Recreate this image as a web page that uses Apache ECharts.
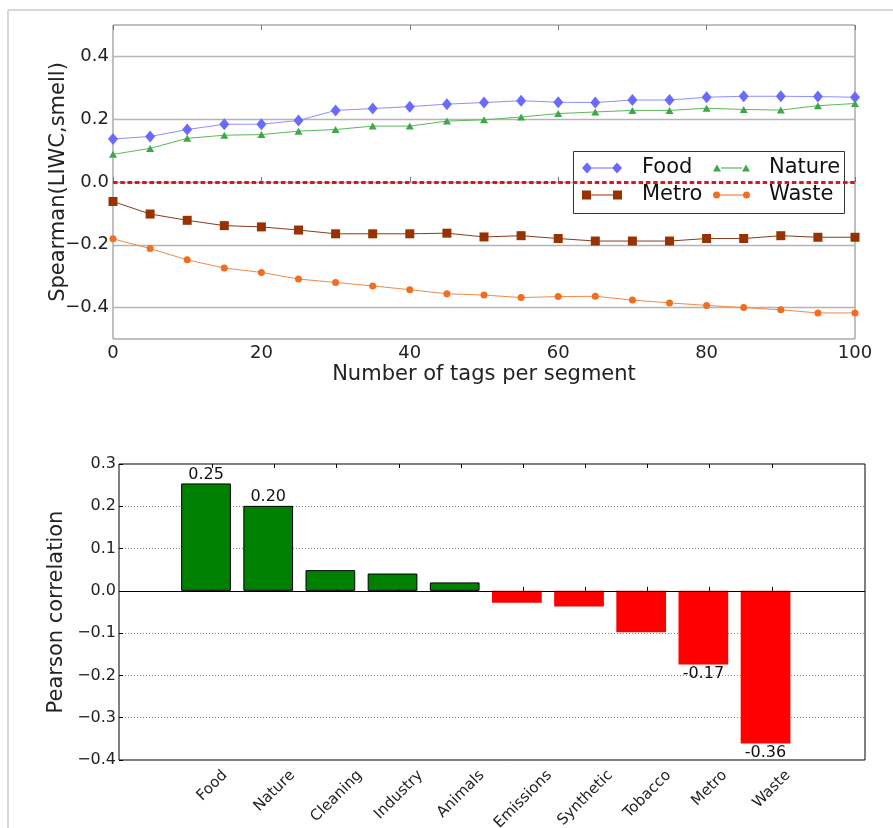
<!DOCTYPE html>
<html><head><meta charset="utf-8">
<script src="https://cdn.jsdelivr.net/npm/echarts@6/dist/echarts.min.js"></script>
<style>html,body{margin:0;padding:0;background:#fff}#c{width:893px;height:828px}</style>
</head><body><div id="c"></div>
<script>
// ---------- data: top chart ----------
const tagCounts = [0,5,10,15,20,25,30,35,40,45,50,55,60,65,70,75,80,85,90,95,100];
const foodRho   = [0.137,0.145,0.167,0.184,0.184,0.196,0.228,0.234,0.240,0.248,0.253,0.259,0.254,0.253,0.261,0.261,0.270,0.273,0.273,0.272,0.270];
const natureRho = [0.088,0.107,0.139,0.149,0.151,0.162,0.167,0.178,0.178,0.194,0.198,0.207,0.218,0.223,0.228,0.228,0.235,0.231,0.229,0.243,0.250];
const metroRho  = [-0.062,-0.102,-0.122,-0.139,-0.143,-0.153,-0.165,-0.165,-0.165,-0.163,-0.175,-0.171,-0.180,-0.188,-0.188,-0.188,-0.180,-0.180,-0.171,-0.176,-0.176];
const wasteRho  = [-0.181,-0.212,-0.248,-0.274,-0.288,-0.309,-0.320,-0.331,-0.343,-0.356,-0.360,-0.368,-0.365,-0.364,-0.376,-0.385,-0.393,-0.400,-0.407,-0.417,-0.417];
// ---------- data: bottom chart ----------
const barCategories = ['Food','Nature','Cleaning','Industry','Animals','Emissions','Synthetic','Tobacco','Metro','Waste'];
const pearsonValues = [0.254,0.201,0.049,0.041,0.020,-0.028,-0.037,-0.098,-0.174,-0.361];
const labeledBars = ['Food','Nature','Metro','Waste'];

const FONT = 'DejaVu Sans';
const chart = echarts.init(document.getElementById('c'), null, {renderer: 'canvas'});

function pairs(ys) { return tagCounts.map((x, i) => [x, ys[i]]); }
function fmtAxis(v) {
  if (Math.abs(v) < 1e-9) return '0.0';
  const s = Math.abs(v).toFixed(1);
  return v < 0 ? '\u2212' + s : s;
}

// legend icons: marker - line - marker (matplotlib style)
function iconPath(kind, W) {
  const bbox = 'M0,0 L0,0 M' + W + ',12 L' + W + ',12 ';
  let m1, m2, a, b;
  if (kind === 'diamond') {
    m1 = 'M0,6 L5,0.5 L10,6 L5,11.5 Z '; m2 = 'M' + (W-10) + ',6 L' + (W-5) + ',0.5 L' + W + ',6 L' + (W-5) + ',11.5 Z ';
    a = 10; b = W - 10;
  } else if (kind === 'triangle') {
    m1 = 'M0,9.5 L4,2.5 L8,9.5 Z '; m2 = 'M' + (W-8) + ',9.5 L' + (W-4) + ',2.5 L' + W + ',9.5 Z ';
    a = 8; b = W - 8;
  } else if (kind === 'square') {
    m1 = 'M0,1.5 L9,1.5 L9,10.5 L0,10.5 Z '; m2 = 'M' + (W-9) + ',1.5 L' + W + ',1.5 L' + W + ',10.5 L' + (W-9) + ',10.5 Z ';
    a = 9; b = W - 9;
  } else {
    m1 = 'M0,6 A3.5,3.5 0 1,0 7,6 A3.5,3.5 0 1,0 0,6 Z ';
    m2 = 'M' + (W-7) + ',6 A3.5,3.5 0 1,0 ' + W + ',6 A3.5,3.5 0 1,0 ' + (W-7) + ',6 Z ';
    a = 7; b = W - 7;
  }
  const line = 'M' + a + ',5.5 L' + b + ',5.5 L' + b + ',6.5 L' + a + ',6.5 Z ';
  return 'path://' + bbox + m1 + line + m2;
}

const colors = {
  Food:   {mark: '#6a6aff', line: '#8f8fff'},
  Nature: {mark: '#3ca84a', line: '#5cb85c'},
  Metro:  {mark: '#983200', line: '#8a3a1c'},
  Waste:  {mark: '#f26d1f', line: '#f08a4a'}
};

function lineSeries(name, ys, symbol, size) {
  return {
    name: name, type: 'line', xAxisIndex: 0, yAxisIndex: 0,
    data: pairs(ys), symbol: symbol, symbolSize: size, showSymbol: true,
    itemStyle: {color: colors[name].mark, borderWidth: 0},
    lineStyle: {color: colors[name].line, width: 1},
    z: 3
  };
}

// bottom axis categories padded with empty bands on each side
const paddedCats = [{value: ''}].concat(barCategories.map(c => ({value: c})), [{value: ' '}]);
// per-label offsets to emulate matplotlib's centred rotated labels (bbox centred on tick, top below axis)
const mctx = document.createElement('canvas').getContext('2d');
const CAT_FS = 15, CAT_LH = 18;
mctx.font = CAT_FS + 'px "' + FONT + '"';
const labelCats = paddedCats.map(d => {
  if (d.value.trim() === '') return d;
  const L = mctx.measureText(d.value).width;
  const bboxH = (L + 17) / Math.SQRT2;
  const delta = 7 + bboxH / 2;
  const a = delta / Math.SQRT2;
  return {value: d.value, textStyle: {align: 'center', verticalAlign: 'top', lineHeight: CAT_LH,
          fontSize: CAT_FS, color: '#222', fontFamily: FONT, padding: [Math.max(0, a - CAT_LH / 2), 2 * a, 0, 0]}};
});

const barData = [{value: '-'}].concat(pearsonValues.map((v, i) => {
  const pos = v >= 0;
  const show = labeledBars.indexOf(barCategories[i]) >= 0;
  return {
    value: v,
    itemStyle: pos ? {color: '#008000', borderColor: '#000', borderWidth: 1}
                   : {color: '#ff0000', borderColor: '#ff0000', borderWidth: 0},
    label: {show: show, position: pos ? 'top' : 'bottom', distance: 1}
  };
}), [{value: '-'}]);

const option = {
  animation: false,
  backgroundColor: '#fff',
  textStyle: {fontFamily: FONT},
  grid: [
    {left: 113, right: 38, top: 25, height: 314, show: true, borderColor: '#808080', borderWidth: 1,
     backgroundColor: 'transparent', containLabel: false, outerBoundsMode: 'none'},
    {left: 119, right: 28, top: 464, height: 296, show: true, borderColor: '#000', borderWidth: 1,
     backgroundColor: 'transparent', containLabel: false, outerBoundsMode: 'none'}
  ],
  xAxis: [
    {gridIndex: 0, type: 'value', min: 0, max: 100, interval: 20, position: 'bottom',
     axisLine: {show: false}, splitLine: {show: false},
     axisTick: {show: true, inside: true, length: 5, lineStyle: {color: '#777'}},
     axisLabel: {fontSize: 18, color: '#222', margin: 5, fontFamily: FONT},
     name: 'Number of tags per segment', nameLocation: 'middle', nameGap: 25, nameMoveOverlap: false,
     nameTextStyle: {fontSize: 21, color: '#222', fontFamily: FONT}},
    {gridIndex: 0, type: 'value', min: 0, max: 100, interval: 20, position: 'top',
     axisLine: {show: false}, splitLine: {show: false}, axisLabel: {show: false},
     axisTick: {show: true, inside: true, length: 5, lineStyle: {color: '#777'}}},
    {gridIndex: 1, type: 'category', data: labelCats, position: 'bottom', boundaryGap: true,
     axisLine: {show: false}, splitLine: {show: false},
     axisTick: {show: true, inside: true, length: 4, alignWithLabel: true,
                interval: (i, v) => v.trim() !== '', lineStyle: {color: '#000'}},
     axisLabel: {interval: 0, rotate: 45, align: 'center', verticalAlign: 'top', margin: 0,
                 hideOverlap: false, fontSize: CAT_FS, color: '#222', fontFamily: FONT}},
    {gridIndex: 1, type: 'category', data: paddedCats, position: 'top', boundaryGap: true,
     axisLine: {show: false}, splitLine: {show: false}, axisLabel: {show: false},
     axisTick: {show: true, inside: true, length: 4, alignWithLabel: true,
                interval: (i, v) => v.trim() !== '', lineStyle: {color: '#000'}}}
  ],
  yAxis: [
    {gridIndex: 0, type: 'value', min: -0.5, max: 0.5, interval: 0.1,
     axisLine: {show: false}, axisTick: {show: false},
     axisLabel: {fontSize: 18, color: '#222', margin: 4, fontFamily: FONT,
       formatter: v => { const r = Math.round(v * 10); return (r % 2 !== 0 || Math.abs(r) === 5) ? '' : fmtAxis(v); }},
     splitLine: {show: true, lineStyle: {color: ['rgba(0,0,0,0)', '#b4b4b4'], width: 1.3}},
     name: 'Spearman(LIWC,smell)', nameLocation: 'middle', nameGap: 44, nameMoveOverlap: false,
     nameTextStyle: {fontSize: 21, color: '#222', fontFamily: FONT}},
    {gridIndex: 1, type: 'value', min: -0.4, max: 0.3, interval: 0.1,
     axisLine: {show: false},
     axisTick: {show: true, inside: true, length: 4, lineStyle: {color: '#000'}},
     axisLabel: {fontSize: 16, color: '#222', margin: 3, fontFamily: FONT, formatter: v => fmtAxis(v)},
     splitLine: {show: true, lineStyle: {color: '#888', type: [1, 2], width: 1}},
     name: 'Pearson correlation', nameLocation: 'middle', nameGap: 52, nameMoveOverlap: false,
     nameTextStyle: {fontSize: 21, color: '#222', fontFamily: FONT}}
  ],
  legend: [
    {left: 582, top: 156, orient: 'vertical', itemWidth: 40, itemHeight: 12, itemGap: 3, padding: 0,
     selectedMode: false, itemStyle: {borderWidth: 0},
     textStyle: {fontSize: 21, lineHeight: 24, color: '#111', fontFamily: FONT, padding: [0, 0, 0, 15]},
     data: [{name: 'Food', icon: iconPath('diamond', 40)}, {name: 'Metro', icon: iconPath('square', 40)}]},
    {left: 713, top: 156, orient: 'vertical', itemWidth: 37, itemHeight: 12, itemGap: 3, padding: 0,
     selectedMode: false, itemStyle: {borderWidth: 0},
     textStyle: {fontSize: 21, lineHeight: 24, color: '#111', fontFamily: FONT, padding: [0, 0, 0, 14]},
     data: [{name: 'Nature', icon: iconPath('triangle', 37)}, {name: 'Waste', icon: iconPath('circle', 37)}]}
  ],
  graphic: [
    {type: 'line', shape: {x1: 8, y1: 10, x2: 893, y2: 10}, style: {stroke: '#d8d8d8', lineWidth: 2}, silent: true},
    {type: 'line', shape: {x1: 8, y1: 10, x2: 8, y2: 828}, style: {stroke: '#d8d8d8', lineWidth: 2}, silent: true},
    {type: 'rect', shape: {x: 573.5, y: 151.5, width: 271, height: 62}, style: {fill: '#fff', stroke: '#333', lineWidth: 1}, z: 3, silent: true}
  ],
  series: [
    Object.assign(lineSeries('Food', foodRho, 'diamond', [10, 12]), {
      markLine: {silent: true, symbol: 'none', label: {show: false}, animation: false,
        lineStyle: {color: '#e3141c', type: [4.5, 2.8], width: 3},
        data: [{yAxis: 0}]}
    }),
    lineSeries('Nature', natureRho, 'triangle', [8, 7]),
    lineSeries('Metro', metroRho, 'rect', 9),
    lineSeries('Waste', wasteRho, 'circle', 7),
    {name: 'Pearson', type: 'bar', xAxisIndex: 2, yAxisIndex: 1, data: barData,
     barWidth: '80%', barGap: '0%',
     label: {fontSize: 16, color: '#111', fontFamily: FONT, formatter: p => Number(p.value).toFixed(2)},
     markLine: {silent: true, symbol: 'none', label: {show: false}, animation: false,
       lineStyle: {color: '#000', type: 'solid', width: 1.2}, data: [{yAxis: 0}]}},
    {name: 'spacer', type: 'bar', xAxisIndex: 2, yAxisIndex: 1,
     data: paddedCats.map(() => '-'), barWidth: '20%', barGap: '0%', silent: true}
  ]
};
chart.setOption(option);
</script>
</body></html>
